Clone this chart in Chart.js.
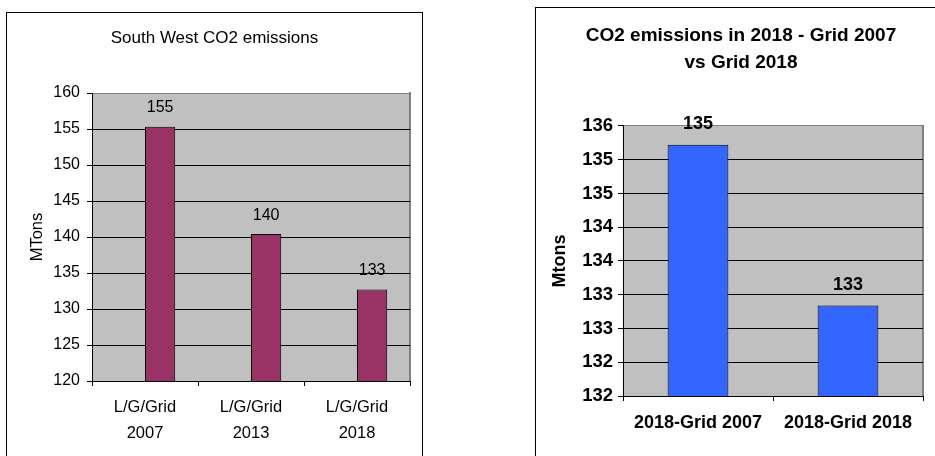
<!DOCTYPE html>
<html>
<head>
<meta charset="utf-8" />
<title>CO2 emissions</title>
<script src="https://cdn.jsdelivr.net/npm/chart.js@4.4.1/dist/chart.umd.min.js"></script>
<style>
	body { margin: 0; background: #fff; width: 935px; height: 456px; overflow: hidden; position: relative; }
	.box { position: absolute; border: 1px solid #000; background: #fff; }
	#boxLeft { left: 6px; top: 12px; width: 415px; height: 445px; }
	#boxRight { left: 535px; top: 7px; width: 410px; height: 450px; }
	canvas { display: block; }
</style>
</head>
<body>
<div class="box" id="boxLeft"><canvas id="leftChart" width="415" height="445"></canvas></div>
<div class="box" id="boxRight"><canvas id="rightChart" width="410" height="450"></canvas></div>
<script>
// South West chart
const leftCategories = [["L/G/Grid", "2007"], ["L/G/Grid", "2013"], ["L/G/Grid", "2018"]];
const leftBlank = [null, null, null]; // empty series, keeps the bars right of centre
const leftValues = [155.3, 140.4, 132.7];
const leftTicks = { min: 120, max: 160, step: 5 };

// 2018 comparison chart
const rightCategories = ["2018-Grid 2007", "2018-Grid 2018"];
const rightValues = [135.32, 132.94];
const rightTicks = { min: 131.6, max: 135.6, step: 0.5 };

Chart.defaults.font.family = '"Liberation Sans", Arial, sans-serif';
Chart.defaults.color = "#000";

// grey plot area + right edge
const plotArea = {
	id: "plotArea",
	beforeDraw(chart) {
		const { ctx, chartArea: a } = chart;
		ctx.save();
		ctx.fillStyle = "#c0c0c0";
		ctx.fillRect(a.left, a.top, a.right - a.left, a.bottom - a.top);
		ctx.strokeStyle = "#808080";
		ctx.lineWidth = 2;
		ctx.beginPath();
		ctx.moveTo(Math.round(a.right), a.top - 1);
		ctx.lineTo(Math.round(a.right), a.bottom);
		ctx.stroke();
		ctx.restore();
	},
};

// numbers above the bars
const valueLabels = {
	id: "valueLabels",
	afterDatasetsDraw(chart, args, opts) {
		const ctx = chart.ctx;
		ctx.save();
		ctx.font = opts.font;
		ctx.fillStyle = "#000";
		ctx.textAlign = "center";
		ctx.textBaseline = "middle";
		chart.data.datasets.forEach((ds, i) => {
			chart.getDatasetMeta(i).data.forEach((bar, j) => {
				if (ds.data[j] == null) return;
				ctx.fillText(Math.round(ds.data[j]), bar.x, bar.y - opts.offset);
			});
		});
		ctx.restore();
	},
};

function gridColor(c) {
	return c.tick && c.tick.value >= c.scale.max ? "#808080" : "#000";
}

new Chart(document.getElementById("leftChart"), {
	type: "bar",
	data: {
		labels: leftCategories,
		datasets: [
			{ label: "blank", data: leftBlank },
			{
				label: "MTons",
				data: leftValues,
				backgroundColor: "#993366",
				borderColor: "#000",
				borderWidth: 1,
			},
		],
	},
	options: {
		responsive: false,
		animation: false,
		categoryPercentage: 0.57,
		barPercentage: 1,
		layout: { padding: { left: 12, right: 12, top: 0, bottom: 0 } },
		plugins: {
			legend: { display: false },
			tooltip: { enabled: false },
			title: {
				display: true,
				text: "South West CO2 emissions",
				font: { size: 17, weight: "normal" },
				padding: { top: 14.8, bottom: 44.8 },
			},
			valueLabels: { font: '16px "Liberation Sans", Arial, sans-serif', offset: 19 },
		},
		scales: {
			x: {
				grid: { drawOnChartArea: false, tickLength: 5, color: "#000", offset: true },
				border: { display: true, color: "#000" },
				ticks: { font: { size: 16.5, lineHeight: 1.58 }, padding: 8, maxRotation: 0 },
				afterFit(s) { s.height = 77; },
			},
			y: {
				min: leftTicks.min,
				max: leftTicks.max,
				ticks: { stepSize: leftTicks.step, font: { size: 16 }, padding: 7 },
				grid: { color: gridColor, tickColor: "#000", tickLength: 5 },
				border: { display: true, color: "#000" },
				title: {
					display: true,
					text: "MTons",
					font: { size: 16.5, weight: "normal" },
					padding: { top: 9, bottom: 0 },
				},
				afterFit(s) { s.width = 73; },
			},
		},
	},
	plugins: [plotArea, valueLabels],
});

new Chart(document.getElementById("rightChart"), {
	type: "bar",
	data: {
		labels: rightCategories,
		datasets: [
			{
				label: "Mtons",
				data: rightValues,
				backgroundColor: "#3366ff",
				borderColor: "#000",
				borderWidth: 1,
			},
		],
	},
	options: {
		responsive: false,
		animation: false,
		categoryPercentage: 0.405,
		barPercentage: 1,
		layout: { padding: { left: 23, right: 23, top: 0, bottom: 0 } },
		plugins: {
			legend: { display: false },
			tooltip: { enabled: false },
			title: {
				display: true,
				text: ["CO2 emissions in 2018 - Grid 2007", "vs Grid 2018"],
				font: { size: 19, weight: "bold", lineHeight: 1.42 },
				padding: { top: 14.5, bottom: 49.5 },
			},
			valueLabels: { font: 'bold 18px "Liberation Sans", Arial, sans-serif', offset: 21 },
		},
		scales: {
			x: {
				grid: { drawOnChartArea: false, tickLength: 5, color: "#000", offset: true },
				border: { display: true, color: "#000" },
				ticks: { font: { size: 18, weight: "bold" }, padding: 11, maxRotation: 0 },
				afterFit(s) { s.height = 62; },
			},
			y: {
				min: rightTicks.min,
				max: rightTicks.max,
				ticks: {
					stepSize: rightTicks.step,
					font: { size: 18.5, weight: "bold" },
					padding: 5,
					callback: (v) => Math.round(v),
				},
				grid: { color: gridColor, tickColor: "#000", tickLength: 5 },
				border: { display: true, color: "#000" },
				title: {
					display: true,
					text: "Mtons",
					font: { size: 18, weight: "bold" },
					padding: { top: -9.8, bottom: 0 },
				},
				afterFit(s) { s.width = 64; },
			},
		},
	},
	plugins: [plotArea, valueLabels],
});
</script>
</body>
</html>
